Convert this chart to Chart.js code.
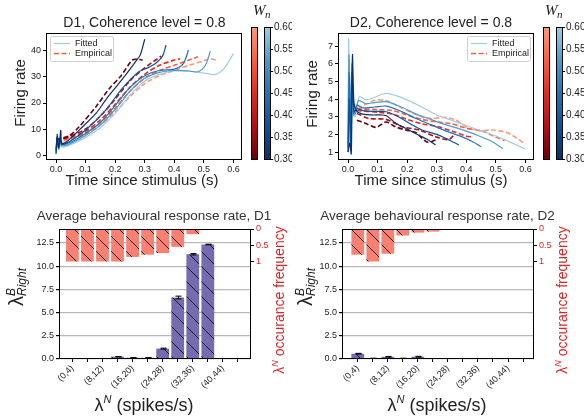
<!DOCTYPE html>
<html>
<head>
<meta charset="utf-8">
<title>Firing rate and behavioural response</title>
<script src="https://cdn.jsdelivr.net/npm/chart.js@4.4.1/dist/chart.umd.min.js"></script>
<style>
  body { margin: 0; background: #fff; }
  #fig { position: relative; width: 584px; height: 416px; }
  #fig canvas { position: absolute; }
</style>
</head>
<body>
<div id="fig">
  <canvas id="rate_d1" width="292" height="200" style="left:0;top:0"></canvas>
  <canvas id="rate_d2" width="292" height="200" style="left:292px;top:0"></canvas>
  <canvas id="resp_d1" width="292" height="216" style="left:0;top:200px"></canvas>
  <canvas id="resp_d2" width="292" height="216" style="left:292px;top:200px"></canvas>
</div>
<script>
// ---- data ----
const wnValues = [0.30, 0.375, 0.45, 0.525, 0.60]
const wnTicks = [0.30, 0.35, 0.40, 0.45, 0.50, 0.55, 0.60]
const timeTicks = [0, 0.1, 0.2, 0.3, 0.4, 0.5, 0.6]
const d1RateTicks = [0, 10, 20, 30, 40]
const d2RateTicks = [1, 2, 3, 4, 5, 6, 7]

// [time (s), firing rate] per Wn, darkest (0.30) first
const d1Fitted = [
  [[0,2],[0.004,7],[0.008,3],[0.012,5],[0.016,9.5],[0.02,4.5],[0.04,5.5],[0.078,9.6],[0.135,16],[0.17,21.5],[0.208,26.9],[0.24,31.5],[0.269,35.9],[0.285,38.5],[0.30,44.5]],
  [[0,1],[0.004,8],[0.009,3],[0.014,6],[0.02,4],[0.05,5.5],[0.1,9.6],[0.168,17.3],[0.224,25.6],[0.28,32],[0.31,33.5],[0.337,35.3],[0.36,38],[0.372,42.3]],
  [[0,0.5],[0.004,6.5],[0.009,2.5],[0.014,5],[0.02,4],[0.05,5],[0.1,8.3],[0.15,12.5],[0.2,19],[0.25,26],[0.3,30.5],[0.35,32.5],[0.4,33],[0.43,35],[0.448,40.4]],
  [[0,0.5],[0.004,6],[0.009,2.5],[0.014,4.5],[0.02,3.5],[0.05,4.5],[0.1,7.5],[0.15,11.5],[0.2,17.5],[0.25,24.5],[0.3,29.5],[0.35,31.8],[0.4,32.5],[0.45,32.3],[0.48,32],[0.505,34.5],[0.522,40]],
  [[0,0.3],[0.004,5],[0.009,2],[0.014,4],[0.02,3],[0.05,4],[0.1,6.8],[0.15,10.5],[0.2,16],[0.25,23],[0.3,28.5],[0.35,31],[0.4,32.3],[0.45,32.3],[0.5,31.5],[0.54,31],[0.57,33.5],[0.6,39]]
]
const d1Empirical = [
  [[0,5.8],[0.04,7],[0.078,10.9],[0.135,18.6],[0.18,25.5],[0.22,30.5],[0.258,36.5],[0.275,36.8],[0.293,36.5]],
  [[0,6],[0.05,7.5],[0.1,10],[0.15,15],[0.2,21.5],[0.25,28.5],[0.3,33.5],[0.33,36],[0.356,38]],
  [[0,6],[0.05,7],[0.1,9.2],[0.15,13.5],[0.2,19.5],[0.25,26],[0.3,31],[0.35,34.5],[0.4,36.5],[0.42,37]],
  [[0,5.5],[0.05,6.5],[0.1,8.5],[0.15,12.5],[0.2,18],[0.25,24.5],[0.3,29.5],[0.35,32.5],[0.4,34.5],[0.45,36.5],[0.48,37.8]],
  [[0,5],[0.05,6],[0.1,8],[0.15,11.5],[0.2,16.5],[0.25,22.5],[0.3,27.5],[0.35,30.5],[0.4,32.5],[0.45,34.5],[0.5,36.2],[0.52,37],[0.54,36.5]]
]
const d2Fitted = [
  [[0,1],[0.006,1.5],[0.011,0.9],[0.015,6.5],[0.02,3.8],[0.03,3.3],[0.05,3.15],[0.08,3.1],[0.11,3.1],[0.13,3.05],[0.16,2.65],[0.2,2.3],[0.24,1.95],[0.27,1.7],[0.296,1.4]],
  [[0,1],[0.004,4],[0.009,1.1],[0.014,6],[0.02,3.3],[0.03,3.45],[0.05,3.35],[0.09,3.3],[0.13,3.28],[0.17,3.0],[0.21,2.6],[0.25,2.25],[0.3,2.0],[0.34,1.7],[0.375,1.4]],
  [[0,1.2],[0.004,5.5],[0.008,1.5],[0.013,5],[0.02,3.2],[0.03,3.65],[0.05,3.5],[0.09,3.55],[0.13,3.6],[0.18,3.3],[0.23,2.9],[0.28,2.55],[0.33,2.2],[0.38,1.9],[0.42,1.6],[0.45,1.3]],
  [[0,1.5],[0.003,6.5],[0.007,3],[0.012,5.5],[0.018,3.1],[0.025,3.2],[0.035,3.9],[0.06,3.75],[0.09,3.8],[0.128,3.85],[0.18,3.55],[0.23,3.15],[0.28,2.85],[0.33,2.55],[0.38,2.3],[0.43,2.0],[0.48,1.65],[0.524,1.2]],
  [[0,1.2],[0.002,7.4],[0.006,4],[0.01,1.8],[0.015,3.3],[0.025,3.0],[0.038,4.13],[0.06,3.95],[0.09,4.1],[0.128,4.32],[0.17,4.15],[0.22,3.8],[0.26,3.45],[0.3,3.1],[0.35,2.8],[0.4,2.5],[0.45,2.2],[0.5,1.9],[0.55,1.55],[0.6,1.17]]
]
const d2Empirical = [
  [[0.03,2.8],[0.06,2.62],[0.095,2.4],[0.128,2.7],[0.16,2.43],[0.195,2.25],[0.23,2.1],[0.245,1.87],[0.27,1.55],[0.296,1.68]],
  [[0.03,3.19],[0.07,2.9],[0.128,2.85],[0.184,2.43],[0.24,2.25],[0.296,1.87],[0.34,1.7],[0.358,1.96]],
  [[0.03,3.35],[0.1,3.25],[0.15,3.15],[0.2,2.85],[0.25,2.6],[0.3,2.45],[0.35,2.2],[0.4,1.9],[0.42,1.85]],
  [[0.03,3.45],[0.1,3.4],[0.15,3.35],[0.2,3.1],[0.25,2.85],[0.3,2.7],[0.35,2.6],[0.4,2.35],[0.45,2.2],[0.5,1.85],[0.53,1.65]],
  [[0.03,3.5],[0.06,3.7],[0.094,3.95],[0.13,3.9],[0.17,3.6],[0.22,3.2],[0.26,2.95],[0.285,2.9],[0.33,2.96],[0.364,2.81],[0.41,2.34],[0.45,2.2],[0.49,2.25],[0.543,2.06],[0.6,1.45]]
]

const spikeBins = ['(0,4)', '(4,8)', '(8,12)', '(12,16)', '(16,20)', '(20,24)', '(24,28)', '(28,32)', '(32,36)', '(36,40)', '(40,44)', '(44,48)']
const responseTicks = [0, 2.5, 5, 7.5, 10, 12.5]
const freqTicks = [0, 0.5, 1]
const d1Response = [0, 0, 0, 0.25, 0.13, 0.13, 1.12, 6.62, 11.28, 12.33, 0, 0]
const d1ResponseErr = [0, 0, 0, 0.02, 0.01, 0.01, 0.05, 0.15, 0.07, 0.03, 0, 0]
const d1Occurrence = [1, 1, 1, 1, 0.86, 0.79, 0.74, 0.55, 0.16, 0.02, 0.01, 0.01]
const d2Response = [0.57, 0.07, 0.24, 0.07, 0.25, 0.02, 0.02, 0.02, 0.01, 0.01, 0.01, 0.01]
const d2ResponseErr = [0.04, 0.01, 0.03, 0.01, 0.04, 0, 0, 0, 0, 0, 0, 0]
const d2Occurrence = [0.79, 1, 0.76, 0.2, 0.11, 0.08, 0.03, 0.02, 0.02, 0.01, 0.01, 0.01]

// ---- styling ----
const FONT = '"Liberation Sans", Arial, sans-serif'
const RED = '#d62728'
const bluesByWn = ['#08306b', '#0b529b', '#2373b6', '#4f9bcb', '#a3cbe3']
const redsByWn = ['#67000d', '#ae1117', '#de2d26', '#f6603f', '#fc9a7e']
const legendRows = [
  { label: 'Fitted', color: bluesByWn[4], dash: [], width: 1.2 },
  { label: 'Empirical', color: redsByWn[3], dash: [5, 2.5], width: 1.6 }
]

function hatch(base) {
  const c = document.createElement('canvas')
  c.width = 15; c.height = 15
  const g = c.getContext('2d')
  g.fillStyle = base
  g.fillRect(0, 0, 15, 15)
  g.strokeStyle = '#1a1a1a'
  g.lineWidth = 1
  g.beginPath()
  for (const k of [-15, 0, 15]) { g.moveTo(k, 0); g.lineTo(k + 15, 15) }
  g.stroke()
  return g.createPattern(c, 'repeat')
}

function drawRich(ctx, item) {
  ctx.save()
  ctx.translate(item.x, item.y)
  ctx.rotate(item.rot || 0)
  ctx.fillStyle = item.color || '#222'
  ctx.textBaseline = 'alphabetic'
  ctx.textAlign = 'left'
  let cursor = 0, start = 0
  const placed = []
  item.parts.forEach(p => {
    ctx.font = p.f
    const w = ctx.measureText(p.t).width
    const x0 = p.stack ? start : cursor
    if (!p.stack) start = cursor
    placed.push({ p, x: x0 })
    cursor = Math.max(cursor, x0 + w)
  })
  const off = -cursor / 2
  placed.forEach(({ p, x }) => { ctx.font = p.f; ctx.fillText(p.t, off + x, p.dy || 0) })
  ctx.restore()
}

function drawLegend(ctx, a, side) {
  const w = 63, h = 25
  const x = Math.round(side === 'left' ? a.left + 4 : a.right - 4 - w)
  const y = Math.round(a.top + 3)
  ctx.fillStyle = 'rgba(255,255,255,0.85)'
  ctx.strokeStyle = '#d0d0d0'
  ctx.lineWidth = 1
  ctx.beginPath()
  ctx.roundRect(x + 0.5, y + 0.5, w, h, 2)
  ctx.fill(); ctx.stroke()
  legendRows.forEach((r, i) => {
    const yy = y + 7.5 + i * 10
    ctx.strokeStyle = r.color
    ctx.lineWidth = r.width
    ctx.setLineDash(r.dash)
    ctx.beginPath(); ctx.moveTo(x + 4, yy); ctx.lineTo(x + 20, yy); ctx.stroke()
    ctx.setLineDash([])
    ctx.fillStyle = '#222'
    ctx.font = '9px ' + FONT
    ctx.textBaseline = 'middle'
    ctx.fillText(r.label, x + 25, yy)
  })
}

function drawColorbar(ctx, a) {
  const top = Math.round(a.top) - 6, bot = Math.round(a.bottom) - 1
  const bars = [[Math.round(a.right) + 9, redsByWn], [Math.round(a.right) + 22, bluesByWn]]
  bars.forEach(([x, cols]) => {
    const g = ctx.createLinearGradient(0, bot, 0, top)
    cols.forEach((c, i) => g.addColorStop(i / (cols.length - 1), c))
    ctx.fillStyle = g
    ctx.fillRect(x, top, 6, bot - top)
    ctx.strokeStyle = '#000'
    ctx.lineWidth = 1
    ctx.strokeRect(x + 0.5, top + 0.5, 6, bot - top)
  })
  const bx = bars[1][0] + 7
  ctx.font = '10px ' + FONT
  ctx.fillStyle = '#222'
  ctx.textBaseline = 'middle'
  ctx.textAlign = 'left'
  wnTicks.forEach(v => {
    const y = bot - (v - wnTicks[0]) / (wnTicks[wnTicks.length - 1] - wnTicks[0]) * (bot - top)
    ctx.beginPath(); ctx.moveTo(bx, y + 0.5); ctx.lineTo(bx + 2, y + 0.5); ctx.stroke()
    ctx.fillText(v.toFixed(2), bx + 3, y)
  })
  ctx.textBaseline = 'alphabetic'
  ctx.font = 'italic 15px "Liberation Serif", serif'
  ctx.fillText('W', Math.round(a.right) + 11, 15)
  ctx.font = 'italic 11px "Liberation Serif", serif'
  ctx.fillText('n', Math.round(a.right) + 23, 18)
}

function panelPlugin(cfg) {
  return {
    id: 'panel',
    afterDatasetsDraw(chart) {
      if (!cfg.errors) return
      const ctx = chart.ctx, y = chart.scales.y, bars = chart.getDatasetMeta(1).data
      ctx.save()
      ctx.strokeStyle = '#000'
      ctx.lineWidth = 1
      cfg.errors.values.forEach((v, i) => {
        const e = cfg.errors.err[i]
        if (!e) return
        const x = Math.round(bars[i].x) + 0.5
        const y0 = y.getPixelForValue(v - e), y1 = y.getPixelForValue(v + e)
        ctx.beginPath()
        ctx.moveTo(x, y0); ctx.lineTo(x, y1)
        ctx.moveTo(x - 3, y0); ctx.lineTo(x + 3, y0)
        ctx.moveTo(x - 3, y1); ctx.lineTo(x + 3, y1)
        ctx.stroke()
      })
      ctx.restore()
    },
    afterDraw(chart) {
      const { ctx, chartArea: a } = chart
      ctx.save()
      ctx.strokeStyle = '#000'
      ctx.lineWidth = 1
      ctx.strokeRect(Math.round(a.left) + 0.5, Math.round(a.top) + 0.5,
        Math.round(a.right - a.left) - 1, Math.round(a.bottom - a.top) - 1)
      cfg.texts.forEach(t => drawRich(ctx, t))
      if (cfg.legend) drawLegend(ctx, a, cfg.legend)
      if (cfg.colorbar) drawColorbar(ctx, a)
      ctx.restore()
    }
  }
}

const tickFont = { family: FONT, size: 9 }

function lineChart(id, fitted, empirical, yTicks, yMin, yMax, cfg) {
  const datasets = []
  fitted.forEach((pts, i) => datasets.push({
    data: pts.map(p => ({ x: p[0], y: p[1] })),
    borderColor: bluesByWn[i], borderWidth: 1.2, pointRadius: 0, tension: 0.3
  }))
  empirical.forEach((pts, i) => datasets.push({
    data: pts.map(p => ({ x: p[0], y: p[1] })),
    borderColor: redsByWn[i], borderWidth: 1.6, borderDash: [5, 2.5], pointRadius: 0, tension: 0.3
  }))
  new Chart(document.getElementById(id), {
    type: 'line',
    data: { datasets },
    options: {
      responsive: false, animation: false, devicePixelRatio: 1,
      layout: { padding: { left: 0, right: 50, top: 33, bottom: 0 } },
      plugins: { legend: { display: false }, tooltip: { enabled: false } },
      scales: {
        x: {
          type: 'linear', min: -0.034, max: 0.629,
          afterBuildTicks: s => { s.ticks = timeTicks.map(v => ({ value: v })) },
          afterFit: s => { s.height = 40 },
          ticks: { font: tickFont, color: '#222', padding: 1, maxRotation: 0, autoSkip: false, callback: v => v.toFixed(1) },
          grid: { drawOnChartArea: false, tickLength: 3, color: '#000' },
          border: { display: false }
        },
        y: {
          min: yMin, max: yMax,
          afterBuildTicks: s => { s.ticks = yTicks.map(v => ({ value: v })) },
          afterFit: s => { s.width = 46 },
          ticks: { font: tickFont, color: '#222', padding: 2, autoSkip: false, callback: v => String(v) },
          grid: { drawOnChartArea: false, tickLength: 3, color: '#000' },
          border: { display: false }
        }
      }
    },
    plugins: [panelPlugin({
      legend: cfg.legend, colorbar: true,
      texts: [
        { x: cfg.titleX, y: 27, parts: [{ t: cfg.title, f: '14px ' + FONT }] },
        { x: cfg.xTitleX, y: 185, parts: [{ t: 'Time since stimulus (s)', f: '15px ' + FONT }] },
        { x: 25, y: cfg.yTitleY, rot: -Math.PI / 2, parts: [{ t: 'Firing rate', f: '15px ' + FONT }] }
      ]
    })]
  })
}

function barChart(id, response, err, occurrence, xMin, xMax, cfg) {
  new Chart(document.getElementById(id), {
    type: 'bar',
    data: {
      datasets: [
        { data: occurrence.map((v, i) => ({ x: i, y: v })), yAxisID: 'freq', backgroundColor: hatch('#fa8072'),
          grouped: false, barPercentage: 0.85, categoryPercentage: 1, borderWidth: 0 },
        { data: response.map((v, i) => ({ x: i, y: v })), yAxisID: 'y', backgroundColor: hatch('#756bb1'),
          grouped: false, barPercentage: 0.85, categoryPercentage: 1, borderWidth: 0 }
      ]
    },
    options: {
      responsive: false, animation: false, devicePixelRatio: 1,
      layout: { padding: { left: 0, right: 0, top: 29, bottom: 0 } },
      plugins: { legend: { display: false }, tooltip: { enabled: false } },
      scales: {
        x: {
          type: 'linear', min: xMin, max: xMax, offset: false,
          afterBuildTicks: s => { s.ticks = spikeBins.map((b, i) => ({ value: i })) },
          afterFit: s => { s.height = 57 },
          ticks: { font: tickFont, color: '#222', padding: 1, minRotation: 45, maxRotation: 45, autoSkip: false,
            callback: v => (v % 2 === 0 ? spikeBins[v] : '') },
          grid: { offset: false, drawOnChartArea: false, tickLength: 3, color: '#000' },
          border: { display: false }
        },
        y: {
          position: 'left', min: 0, max: 14,
          afterBuildTicks: s => { s.ticks = responseTicks.map(v => ({ value: v })) },
          afterFit: s => { s.width = cfg.left },
          ticks: { font: tickFont, color: '#222', padding: 2, callback: v => v.toFixed(1) },
          grid: { color: '#b8b8b8', lineWidth: 1.2, tickColor: '#000', tickLength: 3 },
          border: { display: false }
        },
        freq: {
          position: 'right', reverse: true, min: 0, max: 4.0,
          afterBuildTicks: s => { s.ticks = freqTicks.map(v => ({ value: v })) },
          afterFit: s => { s.width = cfg.right },
          ticks: { font: tickFont, color: RED, padding: 2, callback: v => String(v) },
          grid: { drawOnChartArea: false, tickLength: 3, color: '#000' },
          border: { display: false }
        }
      }
    },
    plugins: [panelPlugin({
      errors: { values: response, err },
      texts: [
        { x: cfg.titleX, y: 20, color: '#333', parts: [{ t: cfg.title, f: '13.5px ' + FONT }] },
        { x: cfg.xTitleX, y: 211, parts: [{ t: 'λ', f: '18px ' + FONT }, { t: 'N', f: 'italic 11px ' + FONT, dy: -8 }, { t: ' (spikes/s)', f: '18px ' + FONT }] },
        { x: cfg.yTitleBase, y: 87, rot: -Math.PI / 2, parts: [{ t: 'λ', f: '20px ' + FONT }, { t: 'B', f: 'italic 12px ' + FONT, dy: -8 }, { t: 'Right', f: 'italic 12px ' + FONT, dy: 3, stack: true }] },
        { x: cfg.rightBase, y: 100, rot: -Math.PI / 2, color: RED, parts: [{ t: 'λ', f: '14px ' + FONT }, { t: 'N', f: 'italic 9px ' + FONT, dy: -6 }, { t: ' occurance frequency', f: '14px ' + FONT }] }
      ]
    })]
  })
}

lineChart('rate_d1', d1Fitted, d1Empirical, d1RateTicks, -1.9, 46.9,
  { title: 'D1, Coherence level = 0.8', titleX: 144.5, xTitleX: 142, yTitleY: 93, legend: 'left' })
lineChart('rate_d2', d2Fitted, d2Empirical, d2RateTicks, 0.55, 7.74,
  { title: 'D2, Coherence level = 0.8', titleX: 139, xTitleX: 139, yTitleY: 94, legend: 'right' })
barChart('resp_d1', d1Response, d1ResponseErr, d1Occurrence, -0.89, 11.87,
  { title: 'Average behavioural response rate, D1', titleX: 154, xTitleX: 144, yTitleBase: 23, rightBase: 284, left: 59, right: 41 })
barChart('resp_d2', d2Response, d2ResponseErr, d2Occurrence, -1.05, 11.73,
  { title: 'Average behavioural response rate, D2', titleX: 145.5, xTitleX: 145, yTitleBase: 20, rightBase: 275, left: 50, right: 50 })
</script>
</body>
</html>
